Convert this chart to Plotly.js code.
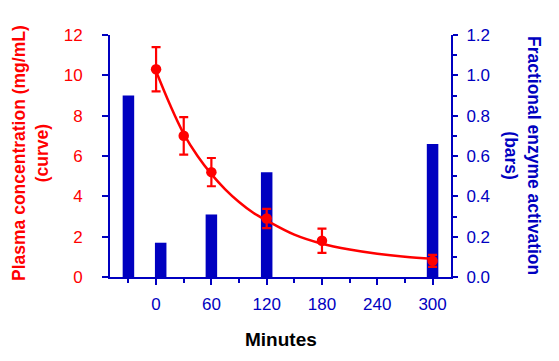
<!DOCTYPE html>
<html>
<head>
<meta charset="utf-8">
<script src="https://cdn.plot.ly/plotly-3.0.1.min.js"></script>
<style>html,body{margin:0;padding:0;background:#fff;}#chart{width:559px;height:361px;}</style>
</head>
<body>
<div id="chart"></div>
<script>
// Bars: fractional enzyme activation (right axis)
const barMinutes = [-30, 5, 60, 120, 300];
const barActivation = [0.90, 0.17, 0.31, 0.52, 0.66];

// Points: plasma concentration with error (left axis)
const pointMinutes = [0, 30, 60, 120, 180, 300];
const pointConc = [10.3, 7.0, 5.2, 2.9, 1.8, 0.8];
const pointErr = [1.1, 0.93, 0.7, 0.48, 0.6, 0.3];

// Fitted curve
const curveMinutes = [0, 15, 30, 45, 60, 75, 90, 105, 120, 150, 180, 210, 240, 270, 300];
const curveConc = [10.2, 8.55, 7.1, 6.0, 5.1, 4.35, 3.72, 3.2, 2.8, 2.1, 1.65, 1.36, 1.15, 1.0, 0.9];

const xTicks = [0, 60, 120, 180, 240, 300];

const BLUE = '#0000C0';
const RED = '#FF0000';
const FONT = 'Arial, "Liberation Sans", sans-serif';

const traces = [
  {
    type: 'bar', x: barMinutes, y: barActivation, width: 12.5,
    marker: {color: BLUE, line: {width: 0}},
    xaxis: 'x', yaxis: 'y', hoverinfo: 'skip'
  },
  {
    type: 'scatter', mode: 'lines', x: curveMinutes, y: curveConc,
    line: {color: RED, width: 2.5, shape: 'spline', smoothing: 1},
    xaxis: 'x', yaxis: 'y2', hoverinfo: 'skip'
  },
  {
    type: 'scatter', mode: 'markers', x: pointMinutes, y: pointConc,
    marker: {color: RED, size: 10.5},
    error_y: {type: 'data', array: pointErr, visible: true, color: RED, thickness: 2.2, width: 4.5},
    xaxis: 'x', yaxis: 'y2', hoverinfo: 'skip'
  }
];

const layout = {
  width: 559, height: 361,
  margin: {l: 110, r: 108, t: 35, b: 84},
  paper_bgcolor: '#fff', plot_bgcolor: '#fff',
  showlegend: false,
  font: {family: FONT, size: 17},
  xaxis: {
    range: [-50, 320], tickmode: 'array', tickvals: xTicks, ticktext: xTicks.map(String),
    ticks: 'outside', ticklen: 6, tickwidth: 2, tickcolor: BLUE,
    showline: true, linecolor: BLUE, linewidth: 2,
    showgrid: false, zeroline: false,
    tickfont: {family: FONT, size: 17, color: BLUE},
    ticklabelstandoff: 5,
    minor: {tickmode: 'array', tickvals: [-30, 30, 90, 150, 210, 270], ticks: 'outside', ticklen: 4, tickwidth: 2, tickcolor: BLUE, showgrid: false}
  },
  yaxis: {
    side: 'right', range: [0, 1.2], tickmode: 'linear', tick0: 0, dtick: 0.2, tickformat: '.1f',
    ticks: 'outside', ticklen: 5, tickwidth: 2, tickcolor: BLUE,
    showline: true, linecolor: BLUE, linewidth: 2,
    showgrid: false, zeroline: false,
    tickfont: {family: FONT, size: 17, color: BLUE},
    ticklabelstandoff: 5,
    minor: {dtick: 0.1, ticks: 'outside', ticklen: 4, tickwidth: 2, tickcolor: BLUE, showgrid: false}
  },
  yaxis2: {
    side: 'left', overlaying: 'y', range: [0, 12], tickmode: 'linear', tick0: 0, dtick: 2,
    ticks: 'outside', ticklen: 6, tickwidth: 2, tickcolor: BLUE,
    showline: true, linecolor: BLUE, linewidth: 2,
    showgrid: false, zeroline: false,
    tickfont: {family: FONT, size: 17, color: RED},
    ticklabelstandoff: 16
  },
  annotations: [
    {
      text: 'Plasma concentration (mg/mL)<br>(curve)', textangle: -90,
      xref: 'paper', yref: 'paper', x: 0, y: 0.5, xanchor: 'center', yanchor: 'middle',
      xshift: -80, yshift: 3, showarrow: false,
      font: {family: FONT, size: 17.5, color: RED, weight: 'bold'}
    },
    {
      text: 'Fractional enzyme activation<br>(bars)', textangle: 90,
      xref: 'paper', yref: 'paper', x: 1, y: 0.5, xanchor: 'center', yanchor: 'middle',
      xshift: 72, yshift: 1, showarrow: false,
      font: {family: FONT, size: 17.5, color: BLUE, weight: 'bold'}
    },
    {
      text: 'Minutes', xref: 'paper', yref: 'paper', x: 0.5, y: 0, xanchor: 'center', yanchor: 'middle',
      yshift: -62, showarrow: false,
      font: {family: FONT, size: 19, color: '#000', weight: 'bold'}
    }
  ]
};

Plotly.newPlot('chart', traces, layout, {staticPlot: true, displayModeBar: false});
</script>
</body>
</html>
